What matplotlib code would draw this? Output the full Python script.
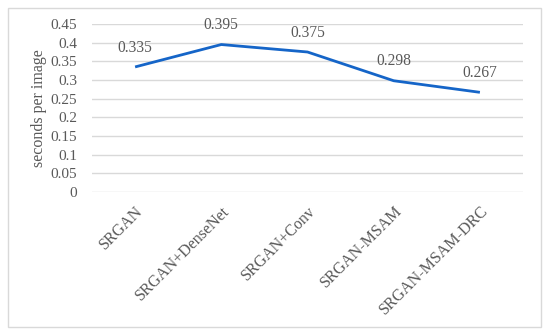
import matplotlib
matplotlib.use("Agg")
import matplotlib.pyplot as plt
from matplotlib.patches import Rectangle

# data
models = ["SRGAN", "SRGAN+DenseNet", "SRGAN+Conv", "SRGAN-MSAM", "SRGAN-MSAM-DRC"]
seconds = [0.335, 0.395, 0.375, 0.298, 0.267]
yticks = [0, 0.05, 0.1, 0.15, 0.2, 0.25, 0.3, 0.35, 0.4, 0.45]
ytick_labels = ["0", "0.05", "0.1", "0.15", "0.2", "0.25", "0.3", "0.35", "0.4", "0.45"]

text_color = "#595959"
plt.rcParams["font.family"] = ["Liberation Serif", "DejaVu Serif"]

fig = plt.figure(figsize=(5.5, 3.34), dpi=100)
ax = fig.add_axes([92 / 550, 1 - 192 / 334, (523 - 92) / 550, (192 - 24) / 334])

# outer chart border
fig.patches.append(Rectangle((8 / 550, 1 - 327 / 334), (541 - 8) / 550, (327 - 8) / 334,
                             transform=fig.transFigure, fill=False,
                             edgecolor="#d9d9d9", linewidth=1.0))

x = list(range(len(models)))
ax.plot(x, seconds, color="#1565c8", linewidth=2.0, solid_capstyle="butt")

for xi, v in zip(x, seconds):
    ax.annotate(f"{v:.3f}", (xi, v), xytext=(0, 11), textcoords="offset points",
                ha="center", va="baseline", fontsize=11.2, color=text_color)

ax.set_xlim(-0.5, len(models) - 0.5)
ax.set_ylim(0, 0.45)
ax.set_yticks(yticks)
ax.set_yticklabels(ytick_labels, fontsize=11, color=text_color)
ax.set_xticks(x)
ax.set_xticklabels(models, rotation=45, ha="right", rotation_mode="anchor",
                   fontsize=11.5, color=text_color)
ax.tick_params(axis="both", length=0)
ax.tick_params(axis="y", pad=10.5)
ax.tick_params(axis="x", pad=8)
ax.grid(axis="y", color="#d9d9d9", linewidth=1.0)
ax.set_axisbelow(True)
for s in ax.spines.values():
    s.set_visible(False)

ax.set_ylabel("seconds per image", fontsize=11.5, color=text_color, labelpad=3)

fig.savefig("out.png", dpi=100)
